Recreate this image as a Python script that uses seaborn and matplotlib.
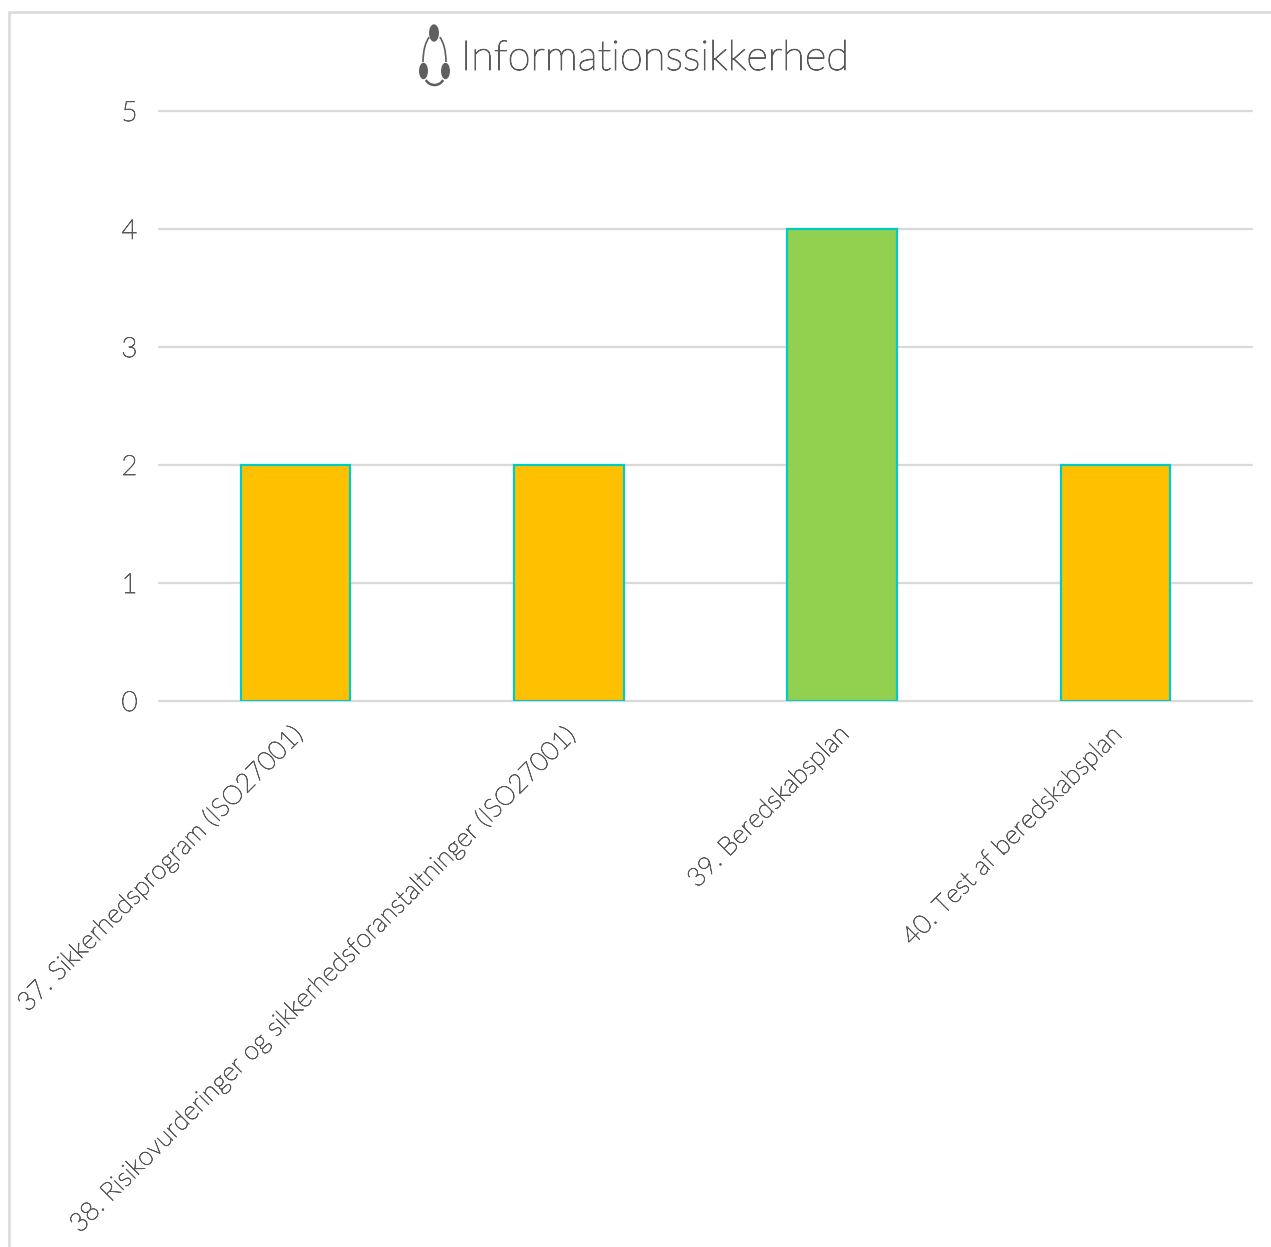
import matplotlib
matplotlib.use("Agg")
import matplotlib.pyplot as plt
import matplotlib.patheffects as pe
from matplotlib.patches import Ellipse, Arc, Rectangle
from matplotlib.transforms import ScaledTranslation
import pandas as pd
import seaborn as sns

categories = [
    "37. Sikkerhedsprogram (ISO27001)",
    "38. Risikovurderinger og sikkerhedsforanstaltninger (ISO27001)",
    "39. Beredskabsplan",
    "40. Test af beredskabsplan",
]
scores = [2, 2, 4, 2]
bar_colors = ["#FFC000", "#FFC000", "#92D050", "#FFC000"]
y_ticks = [0, 1, 2, 3, 4, 5]
title = "Informationssikkerhed"

TEXT = "#595959"
GRID = "#D9D9D9"
EDGE = "#00CCC4"
W, H = 1271, 1247

sns.set_theme(style="white")
plt.rcParams["font.family"] = ["Lato", "DejaVu Sans"]

# Thin strokes on the light face so the lettering stays legible
def thicken(text, width):
    text.set_path_effects([pe.withStroke(linewidth=width, foreground=TEXT)])

fig = plt.figure(figsize=(W / 100, H / 100), dpi=100, facecolor="white")
ax = fig.add_axes([159 / W, 1 - 701 / H, 1093 / W, 590 / H])

df = pd.DataFrame({"category": categories, "score": scores})
sns.barplot(
    data=df, x="category", y="score", hue="category", palette=bar_colors,
    legend=False, width=0.4, edgecolor=EDGE, linewidth=1.6, saturation=1,
    ax=ax, zorder=3,
)

ax.set_xlim(-0.5, 3.5)
ax.set_ylim(0, 5)
ax.set_yticks(y_ticks)
ax.set_xlabel("")
ax.set_ylabel("")
ax.yaxis.grid(True, color=GRID, linewidth=1.6, zorder=0)
ax.set_axisbelow(True)
sns.despine(ax=ax, left=True, top=True, right=True, bottom=True)
for line in ax.get_ygridlines():
    line.set_clip_on(False)

ax.tick_params(axis="y", length=0, pad=15.5, labelcolor=TEXT)
for label in ax.get_yticklabels():
    label.set_fontsize(20)
    label.set_fontweight("light")
    thicken(label, 0.55)

ax.tick_params(axis="x", length=0, pad=15)
ax.set_xticks(range(len(categories)))
ax.set_xticklabels(categories, rotation=45, ha="right", va="top",
                   rotation_mode="anchor", fontsize=18.8, fontweight="light",
                   color=TEXT)
shift = ScaledTranslation(-5 / 100, 0, fig.dpi_scale_trans)
for label in ax.get_xticklabels():
    label.set_transform(label.get_transform() + shift)
    thicken(label, 0.55)

# Outer chart frame, running off the right and bottom of the canvas
fig.add_artist(Rectangle((8.5 / W, -0.02), 1.1, 1 - 12 / H + 0.02,
                         transform=fig.transFigure, fill=False,
                         edgecolor=GRID, linewidth=1.8))

# Title with its small emblem on the left
title_text = fig.text(461 / W, 1 - 59 / H, title, fontsize=30, fontweight="light",
                      color=TEXT, ha="left", va="center")
thicken(title_text, 0.7)

icon = fig.add_axes([414 / W, 1 - 90 / H, 40 / W, 66 / H])
icon.set_xlim(0, 40)
icon.set_ylim(66, 0)
icon.axis("off")
ICON = "#5F5F5F"
icon.add_patch(Ellipse((20, 9), 8.5, 16, color=ICON))
icon.add_patch(Ellipse((9.5, 47), 7.5, 15, color=ICON))
icon.add_patch(Ellipse((31.5, 47), 7.5, 15, color=ICON))
icon.add_patch(Arc((20.5, 38), 23, 56, theta1=180, theta2=258, color=ICON, lw=1.2))
icon.add_patch(Arc((20.5, 38), 23, 56, theta1=282, theta2=360, color=ICON, lw=1.2))
icon.add_patch(Arc((20.5, 51), 20, 20, theta1=30, theta2=150, color=ICON, lw=1.8))

fig.savefig("out.png", dpi=100, facecolor="white")
